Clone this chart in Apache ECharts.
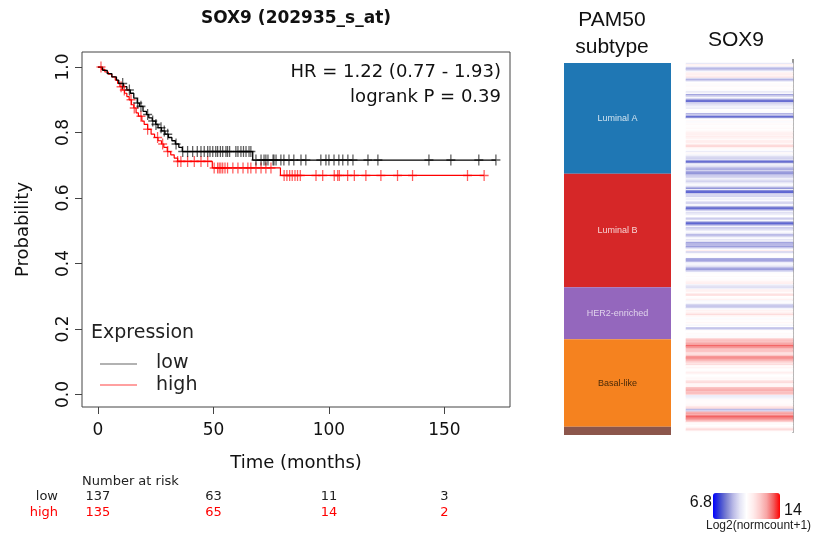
<!DOCTYPE html>
<html>
<head>
<meta charset="utf-8">
<script src="https://cdn.jsdelivr.net/npm/echarts@6/dist/echarts.min.js"></script>
<style>
    html, body { margin: 0; padding: 0; background: #fff; }
    #main { width: 824px; height: 538px; }
</style>
</head>
<body>
<div id="main"></div>
<script>
// KM curves: step points (time in months, survival after the event)
var lowTimes = [0, 2, 4, 6, 8, 9, 11, 12.5, 14, 15.5, 17, 18, 19.5, 21, 22, 23.5, 25, 26, 27.5, 29, 30.5, 32, 33.5, 35, 36.5, 67, 172.3];
var lowSurv = [1, 0.99, 0.98, 0.97, 0.96, 0.95, 0.94, 0.93, 0.92, 0.905, 0.89, 0.88, 0.865, 0.855, 0.845, 0.835, 0.825, 0.815, 0.805, 0.795, 0.785, 0.775, 0.765, 0.755, 0.742, 0.716, 0.716];
var highTimes = [0, 1.5, 3, 4.5, 6, 7.5, 8.5, 9.5, 10.5, 11.5, 12.5, 13.5, 14.5, 15.5, 16.5, 17.5, 19, 20, 21.5, 23, 24.5, 26, 27.5, 28.5, 30, 31.5, 33, 34.5, 49.5, 79, 167.2];
var highSurv = [1, 0.993, 0.985, 0.978, 0.97, 0.96, 0.95, 0.94, 0.93, 0.92, 0.91, 0.9, 0.885, 0.875, 0.86, 0.85, 0.835, 0.825, 0.81, 0.795, 0.785, 0.775, 0.765, 0.755, 0.742, 0.732, 0.722, 0.712, 0.692, 0.669, 0.669];

// censored times
var lowCensor = [10.7, 13.6, 17.2, 18.6, 21.5, 23.7, 25.1, 27.3, 28.7, 30.2, 33.8, 36.7, 38.8, 41, 43, 44.6, 46, 47.5, 48.5, 49.7, 51, 51.8, 53, 54, 55.4, 56.1, 57, 59.7, 60.6, 61.9, 63, 64.1, 65.4, 66.2,
    68.4, 70.6, 71.9, 72.7, 73.6, 75.8, 76.2, 77.1, 79.2, 80.5, 82.7, 84.8, 87.9, 90, 96.5, 98.7, 100, 102.2, 104.3, 106, 108.2, 110.4, 116.9, 121.2, 143.3, 152.8, 164.9, 172.3];
var highCensor = [1.3, 10, 11.4, 14.3, 15.7, 18.6, 21.5, 25.8, 28, 30.2, 34.5, 35.9, 38.8, 41.7, 44.6, 47.5, 50.3, 51.8, 52.5, 53.2, 54, 55, 56.1, 58.4, 60.6, 62.8, 64.9, 66.2, 68.4, 70.6, 72.7, 74.9,
    80.6, 81.8, 83, 84.1, 85.3, 86.4, 87.6, 94.4, 97.3, 102.3, 103.8, 104.5, 108.1, 111, 116, 122.5, 129.7, 136.2, 160, 167.2];

// number at risk
var riskTimes = [0, 50, 100, 150];
var riskLow = [137, 63, 11, 3];
var riskHigh = [135, 65, 14, 2];
var yTicks = [0, 0.2, 0.4, 0.6, 0.8, 1];

// PAM50 subtypes (sample counts, top to bottom)
var subtypes = ['Luminal A', 'Luminal B', 'HER2-enriched', 'Basal-like', 'Normal-like'];
var subtypeCounts = [81, 83, 38, 64, 6];
var subtypeColors = ['#1f77b4', '#d62728', '#9467bd', '#f5821f', '#8c564b'];
var subtypeLabelColors = ['rgba(255,255,255,0.8)', 'rgba(255,255,255,0.8)', 'rgba(255,255,255,0.7)', '#4a2a08', 'rgba(0,0,0,0)'];

// SOX9 log2(normcount+1), samples in the same order
var sox9 = [
    9.8, 10.9, 10.6, 9.3, 8.8, 9.6, 10.2, 10.9, 11.0, 10.8, 11.2, 9.5, 8.9, 9.8, 10.4, 10.5, 10.3, 10.6, 10.4, 10.5,
    10.3, 9.7, 10.2, 8.7, 9.3, 10.2, 9.5, 8.1, 8.0, 9.3, 9.6, 9.8, 10.1, 9.9, 10.4, 10.5, 10.3, 8.9, 9.3, 8.0,
    8.4, 10.4, 10.6, 10.3, 10.5, 10.6, 10.4, 10.5, 10.6, 10.4, 10.7, 10.9, 11.0, 10.8, 11.1, 10.9, 10.6, 11.0, 11.1, 10.7,
    11.3, 11.8, 10.9, 10.6, 10.3, 9.9, 10.6, 10.2, 10.0, 9.5, 9.4, 9.6, 7.9, 8.3, 10.1, 9.9, 9.6, 9.0, 8.8, 9.4,
    8.6, 8.5, 9.0, 9.3, 9.5, 10.0, 9.6, 9.4, 9.8, 10.3, 10.1, 9.4, 8.5, 9.9, 8.0, 7.9, 9.2, 9.5, 9.4, 10.2,
    9.9, 10.3, 9.6, 9.3, 10.2, 10.0, 8.2, 8.0, 8.8, 10.1, 9.6, 9.8, 10.3, 10.4, 9.2, 9.5, 10.2, 8.3, 7.9, 8.6,
    10.1, 9.3, 9.4, 9.9, 10.3, 10.1, 9.0, 9.1, 10.0, 10.3, 9.7, 10.2, 8.7, 8.9, 9.0, 8.6, 9.3, 10.3, 11.0, 9.4,
    10.2, 10.5, 10.4, 10.3, 8.8, 8.6, 9.0, 10.2, 10.1, 9.9, 9.5, 8.7, 8.6, 9.4, 10.3, 10.5, 10.4, 10.6, 10.4, 10.5,
    10.6, 10.9, 11.0, 10.1, 9.7, 9.6, 10.0, 10.9, 10.8, 10.5, 11.4, 11.3, 10.4, 10.5, 10.9, 10.2, 10.4, 10.1, 9.3, 9.2,
    9.4, 10.3, 10.9, 10.7, 11.0, 11.5, 10.8, 10.5, 10.3, 10.6, 10.4, 10.7, 10.5, 10.2, 10.4, 9.0, 9.6, 10.5, 10.4, 10.6,
    10.5, 10.3, 10.6, 11.8, 12.1, 12.0, 12.4, 12.6, 13.2, 12.8, 12.2, 12.0, 12.1, 11.5, 11.4, 11.6, 12.7, 12.9, 12.5, 12.2,
    11.8, 11.3, 11.5, 10.5, 10.8, 10.6, 10.4, 10.7, 11.0, 10.6, 10.4, 10.5, 10.7, 10.6, 11.3, 11.5, 10.9, 10.7, 10.8, 12.0,
    12.3, 12.4, 12.0, 12.2, 11.6, 9.9, 10.0, 10.2, 10.6, 10.5, 10.5, 10.6, 10.7, 11.2, 11.5, 9.0, 9.4, 12.3, 12.6, 12.4,
    13.3, 13.0, 12.9, 12.2, 11.8, 10.5, 10.6, 10.4, 10.6, 11.3, 11.5, 10.5
];
var sox9Min = 6.8;
var sox9Max = 14;
// blue - white - red scale, pale around the middle
var heatColors = ['#0000ff', '#3c46d2', '#7d82d2', '#b9b9e6', '#e4e4f5', '#ffffff',
    '#ffecec', '#fccdcd', '#f8a5a5', '#f25f5f', '#ff0000'];

var FONT = 'DejaVu Sans';
var FONT2 = 'Liberation Sans';
var PLUS = 'path://M4.3,0h1.4v4.3h4.3v1.4h-4.3v4.3h-1.4v-4.3h-4.3v-1.4h4.3z';

function survAt(times, surv, t) {
    var s = surv[0];
    for (var i = 0; i < times.length; i++) {
        if (times[i] <= t) s = surv[i];
    }
    return s;
}

function pairs(xs, ys) {
    return xs.map(function (x, i) { return [x, ys[i]]; });
}

function censorPoints(cens, times, surv) {
    return cens.map(function (t) { return [t, survAt(times, surv, t)]; });
}

var myChart = echarts.init(document.getElementById('main'));

var series = [
    {
        name: 'low', type: 'line', step: 'end', xAxisIndex: 0, yAxisIndex: 0,
        data: pairs(lowTimes, lowSurv), showSymbol: false, silent: true,
        lineStyle: { color: '#000', width: 1.3 }, z: 3
    },
    {
        name: 'high', type: 'line', step: 'end', xAxisIndex: 0, yAxisIndex: 0,
        data: pairs(highTimes, highSurv), showSymbol: false, silent: true,
        lineStyle: { color: '#ff0000', width: 1.2 }, z: 2
    },
    {
        type: 'scatter', xAxisIndex: 0, yAxisIndex: 0, silent: true,
        data: censorPoints(lowCensor, lowTimes, lowSurv),
        symbol: PLUS, symbolSize: [9, 11],
        itemStyle: { color: 'rgba(0,0,0,0.8)' }, z: 4
    },
    {
        type: 'scatter', xAxisIndex: 0, yAxisIndex: 0, silent: true,
        data: censorPoints(highCensor, highTimes, highSurv),
        symbol: PLUS, symbolSize: [9, 11],
        itemStyle: { color: 'rgba(255,0,0,0.8)' }, z: 3
    }
];

subtypes.forEach(function (name, i) {
    series.push({
        name: name, type: 'bar', stack: 'pam50', xAxisIndex: 1, yAxisIndex: 1,
        barWidth: '100%', silent: true,
        data: [subtypeCounts[i]],
        itemStyle: { color: subtypeColors[i] },
        label: {
            show: true, position: 'inside', formatter: name,
            color: subtypeLabelColors[i], fontSize: 9, fontFamily: FONT2
        }
    });
});

series.push({
    type: 'heatmap', xAxisIndex: 2, yAxisIndex: 2, silent: true,
    data: sox9.map(function (v, i) { return [0, i, v]; })
});
var heatIndex = series.length - 1;

var option = {
    animation: false,
    backgroundColor: '#fff',
    textStyle: { fontFamily: FONT },
    grid: [
        { left: 82, top: 52, width: 428, height: 355, show: true, borderColor: '#444', borderWidth: 1, backgroundColor: 'transparent' },
        { left: 564, top: 63, width: 107, height: 372 },
        { left: 686, top: 63, width: 107, height: 369 }
    ],
    xAxis: [
        {
            gridIndex: 0, type: 'value', min: -6.92, max: 178.4,
            axisLine: { show: false, onZero: false },
            axisTick: { show: true, customValues: riskTimes, length: 7, lineStyle: { color: '#444' } },
            axisLabel: { customValues: riskTimes, fontSize: 17, color: '#111', margin: 15, fontFamily: FONT },
            splitLine: { show: false },
            name: 'Time (months)', nameLocation: 'middle', nameGap: 47,
            nameTextStyle: { fontSize: 18, color: '#111', fontFamily: FONT }
        },
        { gridIndex: 1, type: 'category', data: ['PAM50'], show: false },
        { gridIndex: 2, type: 'category', data: ['SOX9'], show: false }
    ],
    yAxis: [
        {
            gridIndex: 0, type: 'value', min: -0.038, max: 1.046,
            axisLine: { show: false, onZero: false },
            axisTick: { show: true, customValues: yTicks, length: 7, lineStyle: { color: '#444' } },
            axisLabel: {
                customValues: yTicks, rotate: 90, fontSize: 17, color: '#111', margin: 10,
                fontFamily: FONT, formatter: function (v) { return v.toFixed(1); }
            },
            splitLine: { show: false },
            name: 'Probability', nameLocation: 'middle', nameGap: 50, nameRotate: 90,
            nameTextStyle: { fontSize: 18, color: '#111', fontFamily: FONT }
        },
        { gridIndex: 1, type: 'value', min: 0, max: 272, inverse: true, show: false },
        {
            gridIndex: 2, type: 'category', inverse: true, position: 'right',
            data: sox9.map(function (v, i) { return i; }),
            axisLine: { show: true, lineStyle: { color: '#999', width: 2 } },
            axisTick: { show: false }, axisLabel: { show: false }, splitLine: { show: false }
        }
    ],
    visualMap: {
        type: 'continuous', seriesIndex: heatIndex, min: sox9Min, max: sox9Max,
        orient: 'horizontal', left: 698, top: 478, itemWidth: 26, itemHeight: 67,
        calculable: false, showLabel: false, text: null,
        inRange: { color: heatColors }
    },
    series: series
};

myChart.setOption(option);

// texts; the risk table uses the x scale of the survival plot
var graphic = [
    { type: 'text', style: { text: 'SOX9 (202935_s_at)', x: 296, y: 19, align: 'center', verticalAlign: 'middle', font: 'bold 17px "DejaVu Sans"', fill: '#111' } },
    { type: 'text', style: { text: 'HR = 1.22 (0.77 - 1.93)', x: 501, y: 72, align: 'right', verticalAlign: 'middle', font: '18px "DejaVu Sans"', fill: '#111' } },
    { type: 'text', style: { text: 'logrank P = 0.39', x: 501, y: 97, align: 'right', verticalAlign: 'middle', font: '18px "DejaVu Sans"', fill: '#111' } },
    { type: 'text', style: { text: 'Expression', x: 91, y: 333, verticalAlign: 'middle', font: '19px "DejaVu Sans"', fill: '#222' } },
    { type: 'line', shape: { x1: 100, y1: 364, x2: 137, y2: 364 }, style: { stroke: '#999', lineWidth: 1.3 } },
    { type: 'line', shape: { x1: 100, y1: 385, x2: 137, y2: 385 }, style: { stroke: '#ff8080', lineWidth: 1.3 } },
    { type: 'text', style: { text: 'low', x: 156, y: 363, verticalAlign: 'middle', font: '19px "DejaVu Sans"', fill: '#222' } },
    { type: 'text', style: { text: 'high', x: 156, y: 385, verticalAlign: 'middle', font: '19px "DejaVu Sans"', fill: '#222' } },
    { type: 'text', style: { text: 'Number at risk', x: 82, y: 482, verticalAlign: 'middle', font: '13px "DejaVu Sans"', fill: '#222' } },
    { type: 'text', style: { text: 'low', x: 58, y: 497, align: 'right', verticalAlign: 'middle', font: '13px "DejaVu Sans"', fill: '#222' } },
    { type: 'text', style: { text: 'high', x: 58, y: 513, align: 'right', verticalAlign: 'middle', font: '13px "DejaVu Sans"', fill: '#ff0000' } },
    { type: 'text', style: { text: 'PAM50', x: 612, y: 20, align: 'center', verticalAlign: 'middle', font: '21px "Liberation Sans"', fill: '#111' } },
    { type: 'text', style: { text: 'subtype', x: 612, y: 47, align: 'center', verticalAlign: 'middle', font: '21px "Liberation Sans"', fill: '#111' } },
    { type: 'text', style: { text: 'SOX9', x: 736, y: 40, align: 'center', verticalAlign: 'middle', font: '21px "Liberation Sans"', fill: '#111' } },
    { type: 'line', shape: { x1: 793, y1: 59, x2: 793, y2: 63 }, style: { stroke: '#999', lineWidth: 2 } },
    { type: 'text', style: { text: '6.8', x: 712, y: 503, align: 'right', verticalAlign: 'middle', font: '16px "Liberation Sans"', fill: '#111' } },
    { type: 'text', style: { text: '14', x: 784, y: 511, align: 'left', verticalAlign: 'middle', font: '16px "Liberation Sans"', fill: '#111' } },
    { type: 'text', style: { text: 'Log2(normcount+1)', x: 706, y: 526, verticalAlign: 'middle', font: '12px "Liberation Sans"', fill: '#222' } }
];
riskTimes.forEach(function (t, i) {
    var px = myChart.convertToPixel({ xAxisIndex: 0 }, t);
    graphic.push({ type: 'text', style: { text: String(riskLow[i]), x: px, y: 497, align: 'center', verticalAlign: 'middle', font: '13px "DejaVu Sans"', fill: '#222' } });
    graphic.push({ type: 'text', style: { text: String(riskHigh[i]), x: px, y: 513, align: 'center', verticalAlign: 'middle', font: '13px "DejaVu Sans"', fill: '#ff0000' } });
});
myChart.setOption({ graphic: graphic });
</script>
</body>
</html>
